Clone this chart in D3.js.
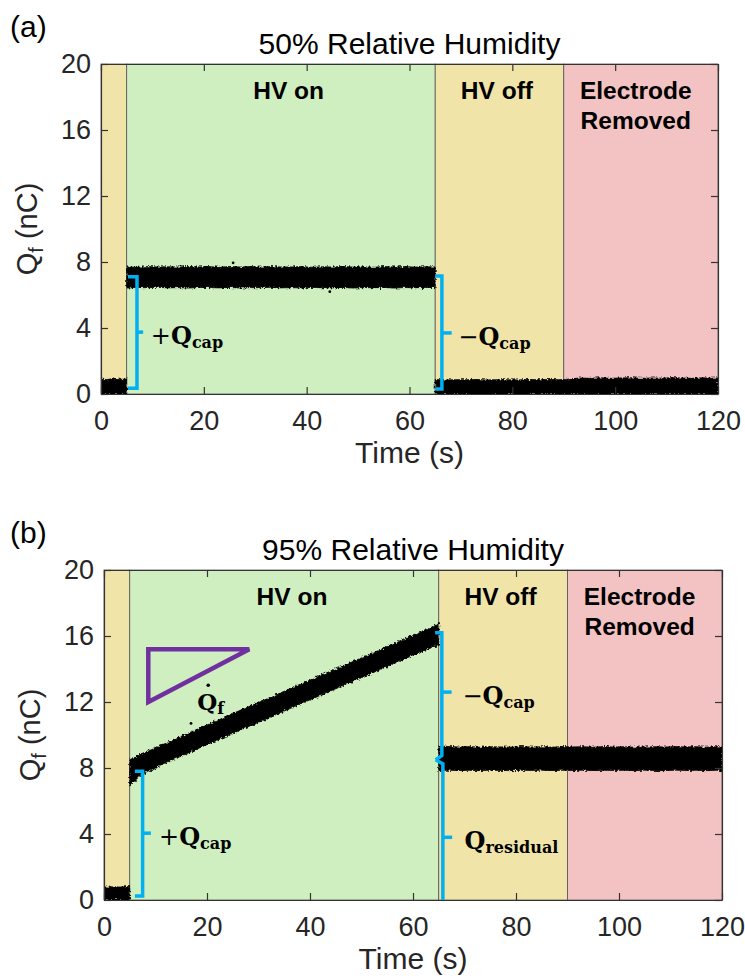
<!DOCTYPE html>
<html>
<head>
<meta charset="utf-8">
<script src="https://cdn.jsdelivr.net/npm/d3@7"></script>
<style>
  body { margin: 0; background: #fff; }
  svg { display: block; }
</style>
</head>
<body>
<svg id="fig" width="745" height="978">
  <defs>
    <filter id="rough" x="-2%" y="-10%" width="104%" height="120%">
      <feTurbulence type="fractalNoise" baseFrequency="0.45" numOctaves="2" seed="7" result="noise"/>
      <feDisplacementMap in="SourceGraphic" in2="noise" scale="5" xChannelSelector="R" yChannelSelector="G"/>
    </filter>
  </defs>
</svg>
<script>
// ---- data ----
const xTicks = [0, 20, 40, 60, 80, 100, 120];
const yTicks = [0, 4, 8, 12, 16, 20];

const phaseStart = [0, 5, 65, 90];
const phaseEnd = [5, 65, 90, 120];
const phaseLabel = ["", "HV on", "HV off", "Electrode|Removed"];

const titles = ["50% Relative Humidity", "95% Relative Humidity"];
const panelTags = ["(a)", "(b)"];

// sampling times (s), jumps are repeated
const timeGrid = [0, 1, 2, 3, 4, 5,
  5, 7, 9, 11, 13, 15, 17, 19, 21, 23, 25, 27, 29, 31, 33, 35, 37, 39, 41, 43, 45, 47, 49, 51, 53, 55, 57, 59, 61, 63, 65,
  65, 67, 69, 71, 73, 75, 77, 79, 81, 83, 85, 87, 89, 91, 93, 95, 97, 99, 101, 103, 105, 107, 109, 111, 113, 115, 117, 119, 120];

// (a) 50% RH : lower / upper edge of the noisy Q_f trace (nC)
const lowA = [0, 0, 0, 0, 0, 0,
  6.42, 6.46, 6.44, 6.47, 6.43, 6.45, 6.42, 6.46, 6.45, 6.43, 6.46, 6.42, 6.45, 6.44, 6.47, 6.43, 6.45, 6.42, 6.46, 6.44, 6.43, 6.46, 6.42, 6.45, 6.44, 6.46, 6.42, 6.45, 6.44, 6.46, 6.45,
  0, 0, 0, 0, 0, 0, 0, 0, 0, 0, 0, 0, 0, 0, 0, 0, 0, 0, 0, 0, 0, 0, 0, 0, 0, 0, 0, 0, 0];
const highA = [0.9, 0.88, 0.92, 0.9, 0.89, 0.91,
  7.7, 7.68, 7.72, 7.7, 7.71, 7.69, 7.73, 7.7, 7.72, 7.68, 7.73, 7.7, 7.72, 7.69, 7.72, 7.7, 7.7, 7.72, 7.68, 7.71, 7.7, 7.73, 7.69, 7.71, 7.68, 7.72, 7.7, 7.72, 7.69, 7.71, 7.7,
  0.88, 0.85, 0.87, 0.86, 0.88, 0.85, 0.87, 0.86, 0.85, 0.88, 0.86, 0.88, 0.87, 0.9, 0.97, 0.95, 0.98, 0.95, 0.97, 0.99, 0.95, 0.97, 0.96, 0.99, 0.97, 0.95, 0.98, 0.96, 0.97];
const strayTimeA = [25.7, 44.5];
const strayQA = [7.95, 6.2];

// (b) 95% RH
const lowB = [0, 0, 0, 0, 0, 0,
  6.9, 7.55, 7.85, 8.15, 8.45, 8.72, 9.0, 9.28, 9.55, 9.82, 10.1, 10.37, 10.64, 10.9, 11.18, 11.45, 11.72, 12.0, 12.26, 12.54, 12.8, 13.07, 13.34, 13.6, 13.88, 14.15, 14.42, 14.7, 14.96, 15.22, 15.45,
  7.85, 7.87, 7.84, 7.86, 7.84, 7.87, 7.85, 7.84, 7.86, 7.85, 7.87, 7.84, 7.86, 7.85, 7.87, 7.84, 7.86, 7.85, 7.86, 7.84, 7.87, 7.85, 7.84, 7.87, 7.85, 7.86, 7.84, 7.86, 7.85];
const highB = [0.8, 0.78, 0.81, 0.79, 0.8, 0.82,
  8.5, 8.8, 9.08, 9.36, 9.64, 9.92, 10.2, 10.47, 10.74, 11.02, 11.3, 11.57, 11.84, 12.1, 12.38, 12.65, 12.93, 13.2, 13.46, 13.74, 14.0, 14.27, 14.54, 14.8, 15.08, 15.35, 15.62, 15.9, 16.16, 16.44, 16.75,
  9.35, 9.3, 9.27, 9.3, 9.26, 9.29, 9.28, 9.26, 9.3, 9.27, 9.29, 9.26, 9.3, 9.28, 9.29, 9.26, 9.3, 9.27, 9.29, 9.26, 9.28, 9.29, 9.27, 9.3, 9.28, 9.29, 9.26, 9.29, 9.28];
const strayTimeB = [16.9];
const strayQB = [10.7];

// annotation brackets, in (time, Q) units
const bracketsA = [
  { pts: [[5.25, 7.1], [7.0, 7.1], [7.0, 0.35], [5.25, 0.35]], tick: [[7.0, 3.75], [8.2, 3.75]], sign: "+", sub: "cap", lx: 9.7 },
  { pts: [[65.0, 7.15], [66.3, 7.15], [66.3, 0.3], [65.0, 0.3]], tick: [[66.3, 3.7], [68.2, 3.7]], sign: "\u2212", sub: "cap", lx: 69.5 }
];
const bracketsB = [
  { pts: [[6.0, 7.8], [7.5, 7.8], [7.5, 0.25], [6.0, 0.25]], tick: [[7.5, 4.05], [9.1, 4.05]], sign: "+", sub: "cap", lx: 10.7 },
  { pts: [[64.3, 16.2], [65.6, 16.2], [65.6, 8.75], [64.4, 8.5]], tick: [[65.6, 12.6], [67.5, 12.6]], sign: "\u2212", sub: "cap", lx: 69.6 },
  { pts: [[64.4, 8.5], [65.8, 8.25], [65.8, 0]], tick: [[65.8, 3.8], [67.6, 3.8]], sign: "", sub: "residual", lx: 70.0 }
];
// slope triangle for dQ/dt in (b)
const slopeTri = [[8.6, 15.2], [28.2, 15.2], [8.6, 12.0]];

// ---- layout / style ----
const frames = [
  { l: 101, r: 718, t: 64, b: 394 },
  { l: 104, r: 722, t: 570, b: 900 }
];
const phaseFill = ["#f1e4a9", "#d0efc0", "#f1e4a9", "#f3c2c2"];
const sans = "'Liberation Sans', Arial, Helvetica, sans-serif";
const serif = "'DejaVu Serif', serif";
const axisCol = "#333";
const bracketCol = "#00b0f0";

const svg = d3.select("#fig");

const panels = [
  { time: timeGrid, low: lowA, high: highA, st: strayTimeA, sq: strayQA, brackets: bracketsA },
  { time: timeGrid, low: lowB, high: highB, st: strayTimeB, sq: strayQB, brackets: bracketsB }
];

// split a trace into runs where time restarts (jumps)
const splitRuns = (time) => {
  let runs = [], cur = [0];
  for (let i = 1; i < time.length; i++) {
    if (time[i] === time[i - 1]) { runs.push(cur); cur = []; }
    cur.push(i);
  }
  runs.push(cur);
  return runs;
};

panels.forEach((p, pi) => {
  const f = frames[pi];
  const x = d3.scaleLinear().domain([0, 120]).range([f.l, f.r]);
  const y = d3.scaleLinear().domain([0, 20]).range([f.b, f.t]);
  const g = svg.append("g");

  // phase background
  g.selectAll("rect.phase")
    .data(phaseStart)
    .enter().append("rect")
    .attr("x", (d) => x(d))
    .attr("y", f.t)
    .attr("width", (d, i) => x(phaseEnd[i]) - x(d))
    .attr("height", f.b - f.t)
    .attr("fill", (d, i) => phaseFill[i])
    .attr("stroke", "#555")
    .attr("stroke-width", 0.8);

  // trace envelope
  const clipId = "clip" + pi;
  svg.append("clipPath").attr("id", clipId)
    .append("rect").attr("x", f.l).attr("y", f.t).attr("width", f.r - f.l).attr("height", f.b - f.t);

  const area = d3.area()
    .x((i) => x(p.time[i]))
    .y0((i) => y(p.low[i]))
    .y1((i) => y(p.high[i]));
  const tg = g.append("g").attr("clip-path", "url(#" + clipId + ")");
  splitRuns(p.time).forEach((run) => {
    tg.append("path")
      .attr("d", area(run))
      .attr("fill", "#000")
      .attr("stroke", "#000")
      .attr("stroke-width", 0.8)
      .attr("filter", "url(#rough)");
  });

  g.selectAll("circle.stray")
    .data(p.st)
    .enter().append("circle")
    .attr("cx", (d) => x(d))
    .attr("cy", (d, i) => y(p.sq[i]))
    .attr("r", 1.4)
    .attr("fill", "#000");

  // brackets
  const line = d3.line().x((d) => x(d[0])).y((d) => y(d[1]));
  p.brackets.forEach((b) => {
    g.append("path").attr("d", line(b.pts))
      .attr("fill", "none").attr("stroke", bracketCol).attr("stroke-width", 3.5);
    g.append("path").attr("d", line(b.tick))
      .attr("fill", "none").attr("stroke", bracketCol).attr("stroke-width", 3.5);
    const t = g.append("text")
      .attr("x", x(b.lx))
      .attr("y", y(b.tick[0][1]) + 12)
      .attr("font-family", serif)
      .attr("font-size", 24)
      .attr("fill", "#000");
    if (b.sign) t.append("tspan").attr("font-weight", "normal").text(b.sign);
    t.append("tspan").attr("font-weight", "bold").text("Q");
    t.append("tspan").attr("font-weight", "bold").attr("font-size", 16).attr("dy", 4).text(b.sub);
  });

  // phase names
  phaseLabel.forEach((lab, i) => {
    if (!lab) return;
    const mid = (phaseStart[i] + phaseEnd[i]) / 2;
    const lines = lab.split("|");
    const cx = lines.length > 1 ? 104 : (i === 1 ? 36.5 : mid - 0.5);
    lines.forEach((ln, k) => {
      g.append("text")
        .attr("x", x(cx))
        .attr("y", f.t + 35 + k * 30)
        .attr("text-anchor", "middle")
        .attr("font-family", sans)
        .attr("font-weight", "bold")
        .attr("font-size", 24.5)
        .attr("fill", "#000")
        .text(ln);
    });
  });

  // axes (box with inward ticks)
  const styleAxis = (sel) => {
    sel.select(".domain").attr("stroke", axisCol).attr("stroke-width", 1.2);
    sel.selectAll(".tick line").attr("stroke", axisCol).attr("stroke-width", 1.2);
    sel.selectAll(".tick text").attr("fill", "#262626").attr("font-size", 27).attr("font-family", sans);
  };
  g.append("g").attr("transform", "translate(0," + f.b + ")")
    .call(d3.axisBottom(x).tickValues(xTicks).tickSizeInner(-7).tickSizeOuter(0).tickPadding(17))
    .call(styleAxis);
  g.append("g").attr("transform", "translate(0," + f.t + ")")
    .call(d3.axisTop(x).tickValues(xTicks).tickSizeInner(-7).tickSizeOuter(0).tickFormat(""))
    .call(styleAxis);
  g.append("g").attr("transform", "translate(" + f.l + ",0)")
    .call(d3.axisLeft(y).tickValues(yTicks).tickSizeInner(-7).tickSizeOuter(0).tickPadding(10))
    .call(styleAxis);
  g.append("g").attr("transform", "translate(" + f.r + ",0)")
    .call(d3.axisRight(y).tickValues(yTicks).tickSizeInner(-7).tickSizeOuter(0).tickFormat(""))
    .call(styleAxis);

  // labels
  const cxMid = (f.l + f.r) / 2;
  svg.append("text")
    .attr("x", cxMid).attr("y", f.t - 10)
    .attr("text-anchor", "middle")
    .attr("font-family", sans).attr("font-size", 30).attr("fill", "#000")
    .text(titles[pi]);
  svg.append("text")
    .attr("x", 10).attr("y", f.t - 27)
    .attr("font-family", sans).attr("font-size", 30).attr("fill", "#000")
    .text(panelTags[pi]);
  svg.append("text")
    .attr("x", cxMid).attr("y", f.b + 69)
    .attr("text-anchor", "middle")
    .attr("font-family", sans).attr("font-size", 30).attr("fill", "#262626")
    .text("Time (s)");
  const yl = svg.append("text")
    .attr("transform", "translate(" + (f.l - 64) + "," + ((f.t + f.b) / 2) + ") rotate(-90)")
    .attr("text-anchor", "middle")
    .attr("font-family", sans).attr("font-size", 29).attr("fill", "#262626");
  yl.append("tspan").text("Q");
  yl.append("tspan").attr("font-size", 20).attr("dy", 6).text("f");
  yl.append("tspan").attr("dy", -6).text(" (nC)");

  // slope triangle and Qdot label in (b)
  if (pi === 1) {
    g.append("path")
      .attr("d", line(slopeTri) + "Z")
      .attr("fill", "none")
      .attr("stroke", "#7030a0")
      .attr("stroke-width", 4.5);
    const qx = x(18.1), qy = y(11.5);
    const qt = g.append("text")
      .attr("x", qx).attr("y", qy)
      .attr("font-family", serif).attr("font-size", 23).attr("font-weight", "bold").attr("fill", "#000");
    qt.append("tspan").text("Q");
    qt.append("tspan").attr("font-size", 16).attr("dy", 4).text("f");
    g.append("circle").attr("cx", qx + 11).attr("cy", qy - 25).attr("r", 1.8).attr("fill", "#000");
  }
});
</script>
</body>
</html>
